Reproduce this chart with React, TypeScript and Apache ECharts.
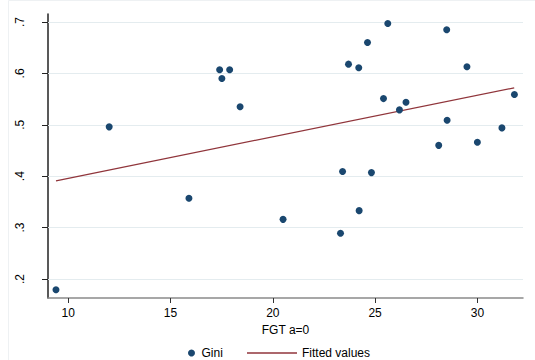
import React, { useEffect, useRef } from "react";
import * as echarts from "echarts";

const giniPoints: [number, number][] = [
  [9.4, 0.179], [12.0, 0.496], [15.9, 0.357], [17.4, 0.607], [17.51, 0.59],
  [17.89, 0.607], [18.4, 0.535], [20.5, 0.316], [23.31, 0.289], [24.22, 0.333],
  [23.41, 0.409], [24.82, 0.407], [23.7, 0.618], [24.2, 0.611], [24.63, 0.66],
  [25.62, 0.697], [25.41, 0.551], [26.19, 0.529], [26.51, 0.544], [28.5, 0.685],
  [28.52, 0.509], [28.11, 0.46], [29.49, 0.613], [30.0, 0.466], [31.2, 0.494],
  [31.81, 0.559],
];
const fittedPoints: [number, number][] = [
  [9.4, 0.391],
  [31.8, 0.572],
];
const xTicks = [10, 15, 20, 25, 30];
const yTicks = [0.2, 0.3, 0.4, 0.5, 0.6, 0.7];

const FONT = "'Liberation Sans', Arial, Helvetica, sans-serif";

export default function App() {
  const ref = useRef<HTMLDivElement>(null);
  useEffect(() => {
    if (!ref.current) return;
    const chart = echarts.init(ref.current, undefined, { renderer: "svg" });
    chart.setOption({
      animation: false,
      backgroundColor: "#ffffff",
      textStyle: { fontFamily: FONT },
      graphic: [
        {
          type: "rect",
          shape: { x: 8.5, y: 0.5, width: 600, height: 400 },
          style: { fill: "none", stroke: "#eef1f3", lineWidth: 1 },
          silent: true,
        },
      ],
      grid: { left: 48, right: 12, top: 14, bottom: 62, containLabel: false },
      xAxis: {
        type: "value",
        min: 9.01,
        max: 32.23,
        name: "FGT a=0",
        nameLocation: "middle",
        nameGap: 21,
        nameTextStyle: { color: "#000", fontSize: 12, fontFamily: FONT },
        axisLine: { show: true, onZero: false, lineStyle: { color: "#8a8a8a", width: 1.5 } },
        axisTick: { show: true, length: 5, customValues: xTicks, lineStyle: { color: "#333", width: 1 } },
        axisLabel: { customValues: xTicks, color: "#000", fontSize: 12, margin: 9, fontFamily: FONT },
        splitLine: { show: false },
      },
      yAxis: {
        type: "value",
        min: 0.163,
        max: 0.7156,
        axisLine: { show: true, onZero: false, lineStyle: { color: "#222", width: 1.5 } },
        axisTick: { show: true, length: 6, customValues: yTicks, lineStyle: { color: "#222", width: 1 } },
        axisLabel: {
          customValues: yTicks,
          rotate: 90,
          color: "#000",
          fontSize: 12,
          margin: 22,
          fontFamily: FONT,
          formatter: (v: number) => v.toFixed(1).replace(/^0/, ""),
        },
        splitLine: { show: false },
      },
      legend: [
        {
          data: [{ name: "Gini", icon: "circle" }],
          left: 188,
          top: 347,
          itemWidth: 10,
          itemHeight: 7,
          padding: 0,
          textStyle: { color: "#000", fontSize: 12, fontFamily: FONT },
        },
        {
          data: [{ name: "Fitted values", icon: "rect" }],
          left: 247,
          top: 347,
          itemWidth: 50,
          itemHeight: 1.3,
          padding: 0,
          textStyle: { color: "#000", fontSize: 12, fontFamily: FONT },
        },
      ],
      series: [
        {
          name: "Gini",
          type: "scatter",
          data: giniPoints,
          symbol: "circle",
          symbolSize: 7,
          itemStyle: { color: "#1a476f", opacity: 1 },
          z: 3,
          markLine: {
            silent: true,
            symbol: "none",
            label: { show: false },
            lineStyle: { color: "#e4ecef", width: 1, type: "solid" },
            data: yTicks.map((v) => ({ yAxis: v })),
            z: 1,
          },
        },
        {
          name: "Fitted values",
          type: "line",
          data: fittedPoints,
          showSymbol: false,
          symbol: "none",
          lineStyle: { color: "#90353b", width: 1.2 },
          itemStyle: { color: "#90353b" },
          z: 2,
        },
      ],
    });
    return () => chart.dispose();
  }, []);
  return (
    <div
      ref={ref}
      style={{ position: "fixed", left: 0, top: 0, width: 535, height: 360 }}
    />
  );
}
